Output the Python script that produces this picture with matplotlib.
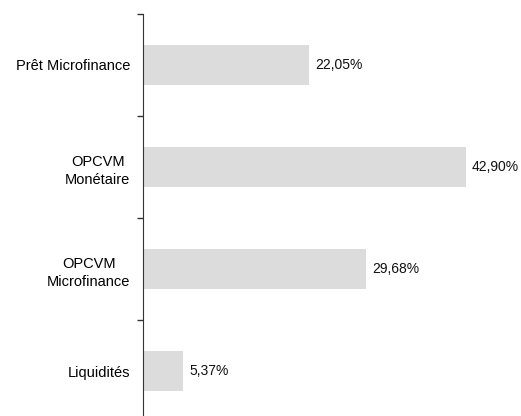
import numpy as np
import matplotlib.pyplot as plt

plt.rcParams['font.family'] = ['Liberation Sans', 'DejaVu Sans']

# Data
categories = ["Prêt Microfinance", "OPCVM\nMonétaire", "OPCVM\nMicrofinance", "Liquidités"]
values = [22.05, 42.90, 29.68, 5.37]
labels = ["22,05%", "42,90%", "29,68%", "5,37%"]

fig = plt.figure(figsize=(5.21, 4.16), dpi=100)
ax = fig.add_axes([143 / 521, -6 / 416, 376 / 521, 408 / 416])

y = np.arange(len(categories))
ax.barh(y, values, height=0.4, color='#dcdcdc')
ax.set_ylim(len(categories) - 0.5, -0.5)
ax.set_xlim(0, 50)

for yi, v, lab in zip(y, values, labels):
    ax.text(v + 0.85, yi, lab, va='center', ha='left', fontsize=10, color='#111111')

ax.set_yticks(y)
ax.set_yticklabels(categories, fontsize=10.5, multialignment='center', linespacing=1.45)
ax.tick_params(axis='y', which='major', length=0, pad=9)
ax.set_yticks(np.arange(len(categories)) - 0.5, minor=True)
ax.tick_params(axis='y', which='minor', length=4, width=1, color='#333333')

ax.set_xticks([])
for s in ['top', 'right', 'bottom']:
    ax.spines[s].set_visible(False)
ax.spines['left'].set_color('#333333')

fig.savefig('out.png', dpi=100)
